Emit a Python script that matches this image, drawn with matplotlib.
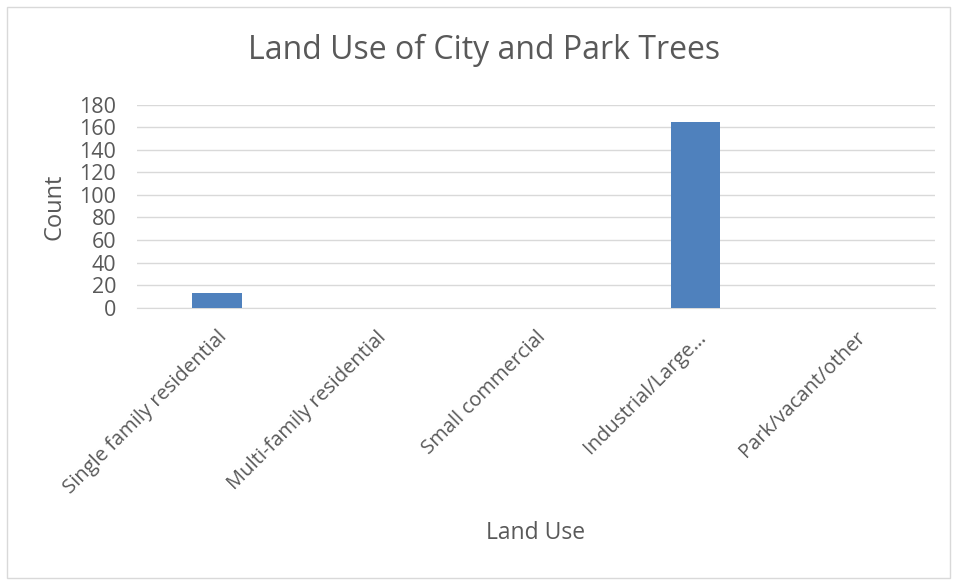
import matplotlib.pyplot as plt
from matplotlib.patches import Rectangle

categories = ["Single family residential", "Multi-family residential",
              "Small commercial", "Industrial/Large\u2026", "Park/vacant/other"]
counts = [13, 0, 0, 165, 0]
yticks = list(range(0, 181, 20))

plt.rcParams["font.family"] = ["Open Sans", "DejaVu Sans"]
text_color = "#595959"

fig = plt.figure(figsize=(9.55, 5.81), dpi=100)
fig.patches.append(Rectangle((7 / 955, 3 / 581), 943 / 955, 571 / 581,
                             transform=fig.transFigure, fill=False,
                             edgecolor="#d9d9d9", linewidth=1))

ax = fig.add_axes([137 / 955, 1 - 307.7 / 581, 798 / 955, 203 / 581])
x = range(len(categories))
ax.bar(x, counts, width=0.31, color="#4f81bd", zorder=3)

ax.set_xlim(-0.5, len(categories) - 0.5)
ax.set_ylim(0, 180)
ax.set_yticks(yticks)
ax.yaxis.grid(True, color="#d9d9d9", linewidth=1, zorder=0)
for s in ["top", "right", "left"]:
    ax.spines[s].set_visible(False)
ax.spines["bottom"].set_color("#d9d9d9")
ax.tick_params(axis="both", length=0, colors=text_color)
ax.tick_params(axis="y", pad=15, labelsize=15.5)
ax.set_xticks(list(x))
ax.set_xticklabels(categories, rotation=45, ha="right", rotation_mode="anchor")
ax.tick_params(axis="x", pad=14, labelsize=14.5)

fig.text(54 / 955, 1 - 207 / 581, "Count", fontsize=17, color=text_color,
         rotation=90, ha="center", va="center")
fig.text(536 / 955, 1 - 533 / 581, "Land Use", fontsize=16.5, color=text_color,
         ha="center", va="center")
fig.text(484 / 955, 1 - 50 / 581, "Land Use of City and Park Trees",
         fontsize=23, color=text_color, ha="center", va="center")

fig.savefig("out.png", dpi=100)
